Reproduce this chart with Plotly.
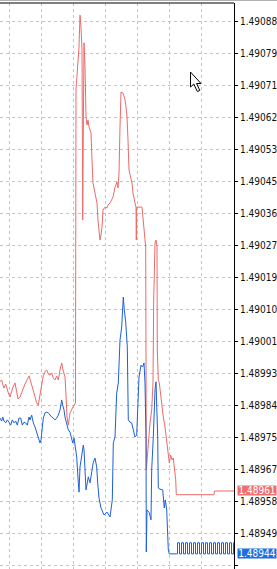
import plotly.graph_objects as go

# ---------------- data (tick number, price) ----------------
ask_tick = [0, 1.7, 3, 4, 5.7, 7, 8.3, 10, 11.7, 13, 15, 16.7, 18, 20, 21.7, 23.3, 25, 27, 29, 30.3,
            32, 33.3, 35, 36.7, 38.3, 39.3, 41, 42, 43.3, 45, 46.7, 48.3, 50, 51.7, 53.3, 55, 56.7, 58.3,
            60, 61.7, 63, 65, 66, 67, 68.3, 70, 73, 75.5, 76, 76.7, 78, 79, 80, 81, 82, 82.3, 82.7, 83.3,
            84, 85, 86, 87, 88, 89, 91, 92, 93, 95, 97, 98, 100, 101, 102, 103, 105, 107, 108, 110, 113,
            115, 117, 118, 119, 120, 121, 123, 125, 126, 127, 128, 129, 132, 133, 135, 136, 136.3, 136.7,
            142, 143, 145, 145.7, 146.3, 147.3, 150, 151.7, 153, 153.7, 154.5, 155, 156, 157, 157.3, 158.3,
            159.3, 160, 161.7, 163.3, 165, 166.7, 168.3, 169.3, 170.7, 172, 173.3, 174.3, 175.7, 176.3,
            214, 214.5, 234]
ask_price = [1.489905, 1.489910, 1.489896, 1.489888, 1.489899, 1.489883, 1.489875, 1.489864, 1.489883,
             1.489891, 1.489902, 1.489875, 1.489859, 1.489864, 1.489878, 1.489891, 1.489899, 1.489910,
             1.489921, 1.489910, 1.489894, 1.489880, 1.489867, 1.489848, 1.489842, 1.489856, 1.489878,
             1.489902, 1.489921, 1.489932, 1.489937, 1.489926, 1.489923, 1.489929, 1.489915, 1.489910,
             1.489921, 1.489910, 1.489937, 1.489956, 1.489937, 1.489918, 1.489869, 1.489810, 1.489788,
             1.489821, 1.489837, 1.489848, 1.490694, 1.490721, 1.490775, 1.490810, 1.490896, 1.490864,
             1.490802, 1.490577, 1.490342, 1.490577, 1.490821, 1.490756, 1.490621, 1.490599, 1.490612,
             1.490594, 1.490577, 1.490504, 1.490442, 1.490415, 1.490388, 1.490342, 1.490288, 1.490302,
             1.490323, 1.490369, 1.490377, 1.490375, 1.490383, 1.490388, 1.490404, 1.490431, 1.490445,
             1.490429, 1.490469, 1.490594, 1.490688, 1.490685, 1.490667, 1.490648, 1.490621, 1.490558,
             1.490477, 1.490442, 1.490415, 1.490388, 1.490377, 1.490288, 1.490377, 1.490377, 1.490350,
             1.490296, 1.490269, 1.489667, 1.489702, 1.489794, 1.489829, 1.489902, 1.490126, 1.490261,
             1.490280, 1.490288, 1.490269, 1.489991, 1.489910, 1.489902, 1.489883, 1.489837, 1.489810,
             1.489783, 1.489748, 1.489721, 1.489686, 1.489707, 1.489694, 1.489699, 1.489675, 1.489640,
             1.489600, 1.489600, 1.489610, 1.489610]

bid_tick = [0, 1.7, 2.7, 4, 5.7, 7.3, 9, 10.7, 12.3, 14, 15.7, 17.3, 19, 20.7, 22.3, 24, 25.7, 27.3, 29,
            30, 31.7, 33.3, 35, 36.7, 38.3, 40, 41, 42.3, 43.3, 45, 46.7, 48.3, 50, 51.7, 53.3, 55, 56.7,
            58.3, 60, 61.7, 62.7, 64, 65, 66.7, 68.3, 70, 71.7, 72.7, 74, 75, 76.7, 78.3, 79, 80, 81.7,
            83.3, 84, 85, 86, 87.3, 88.3, 90, 91.7, 93.3, 95, 96.7, 97.7, 99, 101, 104, 107, 110, 112.3,
            113.3, 115, 116.7, 118.3, 120, 121.7, 123.3, 124.3, 125.7, 127.3, 128.3, 130, 131.7, 133.3,
            135, 136.7, 137.7, 139, 141, 142.7, 144, 145, 146, 146.3, 147, 149.3, 151, 151.7, 153.3, 154,
            155, 156, 156.7, 157.7, 158.3, 160, 162.7, 163.3, 164.3, 165.3, 166.7, 168.3, 169.3, 176.5]
bid_price = [1.489807, 1.489799, 1.489810, 1.489799, 1.489794, 1.489802, 1.489796, 1.489788, 1.489802,
             1.489794, 1.489799, 1.489788, 1.489807, 1.489807, 1.489788, 1.489796, 1.489794, 1.489788,
             1.489810, 1.489802, 1.489815, 1.489794, 1.489783, 1.489767, 1.489753, 1.489740, 1.489748,
             1.489796, 1.489807, 1.489821, 1.489823, 1.489821, 1.489815, 1.489810, 1.489807, 1.489802,
             1.489807, 1.489815, 1.489829, 1.489856, 1.489842, 1.489829, 1.489810, 1.489794, 1.489775,
             1.489769, 1.489748, 1.489740, 1.489753, 1.489729, 1.489702, 1.489632, 1.489607, 1.489675,
             1.489713, 1.489734, 1.489721, 1.489667, 1.489613, 1.489632, 1.489648, 1.489632, 1.489667,
             1.489688, 1.489699, 1.489675, 1.489632, 1.489591, 1.489564, 1.489545, 1.489553, 1.489540,
             1.489586, 1.489740, 1.489756, 1.489875, 1.489902, 1.490018, 1.490053, 1.490134, 1.490099,
             1.490067, 1.489999, 1.489802, 1.489796, 1.489794, 1.489775, 1.489756, 1.489761, 1.489856,
             1.489918, 1.489950, 1.489945, 1.489956, 1.489902, 1.489756, 1.489445, 1.489559, 1.489551,
             1.489532, 1.489667, 1.489756, 1.489829, 1.489883, 1.489905, 1.489837, 1.489756, 1.489618,
             1.489615, 1.489613, 1.489586, 1.489564, 1.489586, 1.489559, 1.489451, 1.48944, 1.48944]

# final flickering bid ticks (alternating quotes)
bid_tail_tick = [176.5, 177.5, 179.5, 181.5, 183.5, 185.5, 187.5, 189.5, 191.5, 193.5, 195.5, 197.5,
                 199.5, 201.5, 203.5, 205.5, 207.5, 209.5, 211.5, 213.5, 215.5, 217.5, 219.5, 221.5,
                 223.5, 225.5, 227.5, 229.5, 231.5, 233.5, 234]
bid_tail_price = [1.48944, 1.48947, 1.48944, 1.48947, 1.48944, 1.48947, 1.48944, 1.48947, 1.48944,
                  1.48947, 1.48944, 1.48947, 1.48944, 1.48947, 1.48944, 1.48947, 1.48944, 1.48947,
                  1.48944, 1.48947, 1.48944, 1.48947, 1.48944, 1.48947, 1.48944, 1.48947, 1.48944,
                  1.48947, 1.48944, 1.48947, 1.48944]

price_labels = ["1.49088", "1.49079", "1.49071", "1.49062", "1.49053", "1.49045", "1.49036", "1.49027",
                "1.49019", "1.49010", "1.49001", "1.48993", "1.48984", "1.48975", "1.48967", "1.48958",
                "1.48949", "1.48941"]

# ---------------- layout geometry ----------------
W, H = 277, 569
PLOT_R = 234          # right edge of plot area (px)
PLOT_T = 3            # top of plot area (px)
FIRST_TICK_PX, LAST_TICK_PX = 21, 565

RED = "#ec6a6a"
BLUE = "#1d5fd8"
RED_BOX = "#ef6f6f"
BLUE_BOX = "#1c6fe0"
GRID = "#c4c4c4"
FONT = "'Liberation Sans Narrow', 'DejaVu Sans Condensed', 'Arial Narrow', 'Liberation Sans', Arial, sans-serif"

top_v = float(price_labels[0])
bot_v = float(price_labels[-1])
px_per_unit = (LAST_TICK_PX - FIRST_TICK_PX) / (top_v - bot_v)
y_max = top_v + (FIRST_TICK_PX - PLOT_T) / px_per_unit
y_min = bot_v - (H - LAST_TICK_PX) / px_per_unit
n = len(price_labels)
tickvals = [top_v - i * (top_v - bot_v) / (n - 1) for i in range(n)]


def paper_x(px):
    return px / PLOT_R


def paper_y(py):
    return (H - py) / (H - PLOT_T)


fig = go.Figure()
fig.add_trace(go.Scatter(x=ask_tick, y=ask_price, mode="lines",
                         line=dict(color=RED, width=1), hoverinfo="skip", name="Ask"))
fig.add_trace(go.Scatter(x=bid_tick, y=bid_price, mode="lines",
                         line=dict(color=BLUE, width=1), hoverinfo="skip", name="Bid"))
fig.add_trace(go.Scatter(x=bid_tail_tick, y=bid_tail_price, mode="lines",
                         line=dict(color=BLUE, width=1, shape="hv"), hoverinfo="skip", name="Bid"))

fig.update_layout(
    width=W, height=H,
    margin=dict(l=0, r=W - PLOT_R, t=PLOT_T, b=0, pad=0),
    paper_bgcolor="white", plot_bgcolor="white",
    showlegend=False,
    xaxis=dict(range=[0, PLOT_R], tickvals=[9, 41, 73, 105, 137, 169, 201],
               showticklabels=False, ticks="", showgrid=True, gridcolor=GRID,
               griddash="3px,3px", gridwidth=1, zeroline=False, showline=False, fixedrange=True),
    yaxis=dict(side="right", range=[y_min, y_max], tickvals=tickvals, ticktext=price_labels,
               showgrid=True, gridcolor=GRID, griddash="3px,3px", gridwidth=1,
               showline=True, linecolor="black", linewidth=1,
               ticks="outside", ticklen=3, tickcolor="black", tickwidth=1,
               tickfont=dict(family=FONT, size=10, color="#101010"),
               zeroline=False, fixedrange=True),
)

# frame lines
fig.add_shape(type="line", xref="paper", yref="paper", x0=0, x1=1, y0=1, y1=1,
              line=dict(color="black", width=1))
fig.add_shape(type="line", xref="paper", yref="paper", x0=0, x1=paper_x(W), y0=paper_y(0.5),
              y1=paper_y(0.5), line=dict(color="#b0b0b0", width=1))

# current price boxes
for val, col in [(ask_price[-1], RED_BOX), (bid_tail_price[-1], BLUE_BOX)]:
    fig.add_annotation(xref="paper", x=paper_x(237), xanchor="left", yref="y", y=val,
                       yanchor="middle", text=f"{val:.5f}", showarrow=False, bgcolor=col,
                       font=dict(color="white", size=10, family=FONT), width=38, height=9,
                       borderpad=0, align="center")

# mouse cursor
cursor_px = [(190.5, 72), (190.5, 87), (193.8, 84), (197.3, 91.5), (199.8, 90.5),
             (196.6, 83.5), (201, 83.5)]
path = "M " + " L ".join(f"{paper_x(a):.5f},{paper_y(b):.5f}" for a, b in cursor_px) + " Z"
fig.add_shape(type="path", xref="paper", yref="paper", path=path,
              fillcolor="white", line=dict(color="black", width=1))

fig.write_html("out.html")
